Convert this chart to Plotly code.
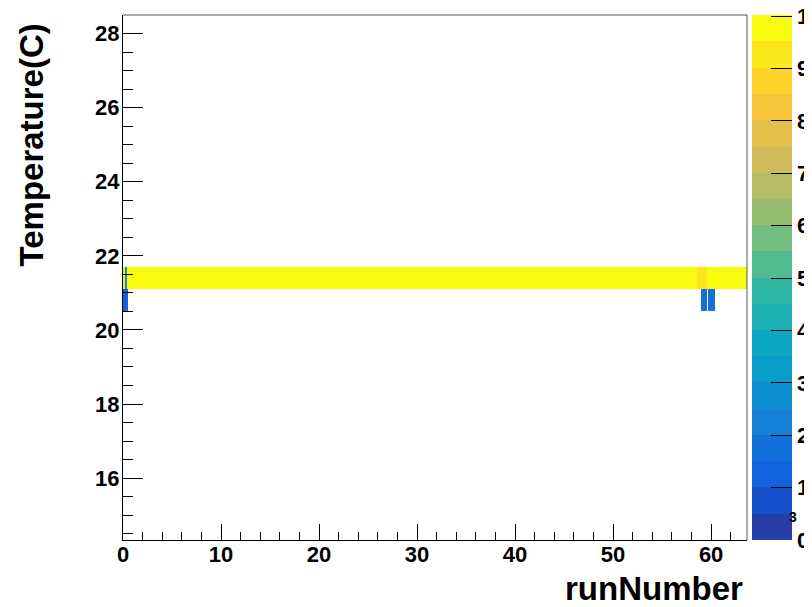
import plotly.graph_objects as go

# ---- data ----
run_edges = [0, 0.2, 0.4, 0.5, 58.6, 58.95, 59.6, 59.7, 60.35, 63.66]   # runNumber bin edges
temp_edges = [20.5, 21.1, 21.7]                                          # Temperature bin edges
counts_row_20p8 = [1200, 1500, 1500, None, None, 1700, None, 1600, None]          # 20.5-21.1 C
counts_row_21p4 = [9500, 3000, 10000, 10000, 9500, 9500, 10000, 10000, 10000]     # 21.1-21.7 C
z_max = 10020
cbar_ticks = [0, 1000, 2000, 3000, 4000, 5000, 6000, 7000, 8000, 9000, 10000]
cbar_text = ["0", "1", "2", "3", "4", "5", "6", "7", "8", "9", "10"]
x_range = [0, 63.66]
y_range = [14.33, 28.5]

# ---- ROOT kBird palette, 20 discrete contour levels ----
stops = [0.0, 0.125, 0.25, 0.375, 0.5, 0.625, 0.75, 0.875, 1.0]
red = [0.2082, 0.0592, 0.0780, 0.0232, 0.1802, 0.5301, 0.8186, 0.9956, 0.9764]
green = [0.1664, 0.3599, 0.5041, 0.6419, 0.7178, 0.7492, 0.7328, 0.7862, 0.9832]
blue = [0.5293, 0.8684, 0.8385, 0.7914, 0.6425, 0.4662, 0.3499, 0.1968, 0.0539]


def bird(f):
    for k in range(len(stops) - 1):
        if stops[k] <= f <= stops[k + 1]:
            t = (f - stops[k]) / (stops[k + 1] - stops[k])
            r = red[k] + t * (red[k + 1] - red[k])
            g = green[k] + t * (green[k + 1] - green[k])
            b = blue[k] + t * (blue[k + 1] - blue[k])
            return "rgb(%d,%d,%d)" % (round(r * 255), round(g * 255), round(b * 255))
    return "rgb(249,251,14)"


ndiv = 20
colorscale = []
for i in range(ndiv):
    idx = int((i + 0.99) * 255 / ndiv)
    c = bird(min(idx, 254) / 254)
    colorscale.append([i / ndiv, c])
    colorscale.append([(i + 1) / ndiv, c])

FONT = "Liberation Sans, Arial, Helvetica, sans-serif"

# page body has an 8px margin: figure is laid out 8px up/left of target pixels
OFF = 8
W, H = 804, 599
L, T = 115, 7
PW, PH = 624, 525
R = W - L - PW
B = H - T - PH


def px(xs):   # screen x -> paper
    return (xs - OFF - L) / PW


def py(ys):   # screen y -> paper
    return (T + PH - (ys - OFF)) / PH


fig = go.Figure()
fig.add_trace(go.Heatmap(
    x=run_edges,
    y=temp_edges,
    z=[counts_row_20p8, counts_row_21p4],
    zmin=0, zmax=z_max,
    colorscale=colorscale,
    hoverongaps=False,
    colorbar=dict(
        thickness=40, thicknessmode="pixels",
        len=1, lenmode="fraction",
        x=px(751.7), xanchor="left", xpad=0,
        y=0.5, yanchor="middle", ypad=0,
        outlinewidth=0,
        ticks="inside", ticklen=21, tickcolor="black", tickwidth=1,
        tickvals=cbar_ticks, ticktext=cbar_text,
        ticklabeloverflow="allow",
        tickfont=dict(family=FONT, size=22, color="black", weight="bold"),
    ),
))

fig.update_layout(
    width=W, height=H,
    margin=dict(l=L, r=R, t=T, b=B, pad=0, autoexpand=False),
    paper_bgcolor="white", plot_bgcolor="white",
    showlegend=False,
    font=dict(family=FONT, color="black"),
)

fig.update_xaxes(
    range=x_range, showgrid=False, zeroline=False,
    showline=True, linecolor="black", linewidth=1,
    ticks="inside", ticklen=16, tickcolor="black", tickwidth=1,
    tick0=0, dtick=10, ticklabelstandoff=-5,
    minor=dict(ticks="inside", ticklen=8, tickcolor="black", dtick=2, showgrid=False),
    tickfont=dict(family=FONT, size=22, color="black", weight="bold"),
)
fig.update_yaxes(
    range=y_range, showgrid=False, zeroline=False,
    showline=True, linecolor="black", linewidth=1,
    ticks="inside", ticklen=20, tickcolor="black", tickwidth=1,
    tick0=0, dtick=2, ticklabelstandoff=-2,
    minor=dict(ticks="inside", ticklen=10, tickcolor="black", dtick=0.5, showgrid=False),
    tickfont=dict(family=FONT, size=22, color="black", weight="bold"),
)

# top and right frame lines (grey, as in ROOT frame)
fig.add_shape(type="line", xref="paper", yref="paper", x0=0, x1=1, y0=1, y1=1,
              line=dict(color="#555555", width=1))
fig.add_shape(type="line", xref="paper", yref="paper", x0=1, x1=1, y0=0, y1=1,
              line=dict(color="#555555", width=1))

fig.add_annotation(
    text="Temperature(C)", textangle=-90,
    xref="paper", yref="paper",
    x=px(31), y=py(22),
    xanchor="center", yanchor="top", showarrow=False,
    font=dict(family=FONT, size=33, color="black", weight="bold"),
)
fig.add_annotation(
    text="runNumber",
    xref="paper", yref="paper",
    x=px(745), y=py(588.5),
    xanchor="right", yanchor="middle", showarrow=False,
    font=dict(family=FONT, size=33, color="black", weight="bold"),
)
fig.add_annotation(
    text="3",
    xref="paper", yref="paper",
    x=px(793), y=py(516.5),
    xanchor="center", yanchor="middle", showarrow=False,
    font=dict(family=FONT, size=14, color="black", weight="bold"),
)

fig.write_html("out.html")
